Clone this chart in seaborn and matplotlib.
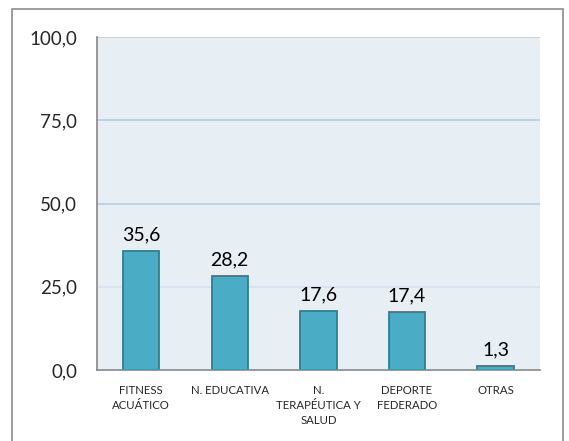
import pandas as pd
import seaborn as sns
import matplotlib.pyplot as plt
from matplotlib.patches import Rectangle

# datos
categorias = ["FITNESS\nACUÁTICO", "N. EDUCATIVA", "N.\nTERAPÉUTICA Y\nSALUD",
              "DEPORTE\nFEDERADO", "OTRAS"]
porcentajes = [35.6, 28.2, 17.6, 17.4, 1.3]
yticks = [0, 25, 50, 75, 100]

df = pd.DataFrame({"categoria": categorias, "porcentaje": porcentajes})

sns.set_style("white")
plt.rcParams['font.family'] = ['Lato', 'DejaVu Sans']

fig = plt.figure(figsize=(5.69, 4.41), dpi=100)
ax = fig.add_axes([0.170, 0.161, 0.779, 0.755])
ax.set_facecolor("#E8EFF4")

ax.set_axisbelow(True)
for v in yticks[1:]:
    ax.axhline(v, color="#B9CDE5" if v != 25 else "#D6E1EF", lw=1.2, zorder=0)

sns.barplot(data=df, x="categoria", y="porcentaje", color="#4BACC6",
            width=0.41, edgecolor="#2E7F93", linewidth=1.3, saturation=1, ax=ax)

for i, v in enumerate(porcentajes):
    ax.text(i, v + 2.3, f"{v:.1f}".replace(".", ","), ha="center", va="bottom",
            fontsize=14, color="black")

ax.set_ylim(0, 100)
ax.set_xlim(-0.5, len(categorias) - 0.5)
ax.set_yticks(yticks)
ax.set_yticklabels([f"{v:.1f}".replace(".", ",") for v in yticks], fontsize=13.5)
ax.set_xticks(range(len(categorias)))
ax.set_xticklabels(categorias, fontsize=8.2, linespacing=1.45, va="top")
ax.set_xticks([i - 0.5 for i in range(len(categorias) + 1)], minor=True)
ax.tick_params(axis="x", which="major", length=0, pad=11)
ax.tick_params(axis="x", which="minor", length=4, color="#888888", direction="out")
ax.tick_params(axis="y", length=5, color="#888888", direction="out", pad=9)
ax.set_xlabel("")
ax.set_ylabel("")

for s in ["top", "right"]:
    ax.spines[s].set_visible(False)
for s in ["left", "bottom"]:
    ax.spines[s].set_color("#888888")
    ax.spines[s].set_linewidth(1.2)

# marco exterior
fig.patches.append(Rectangle((0.021, -0.02), 0.968, 1.0, transform=fig.transFigure,
                             fill=False, edgecolor="#8C8C8C", lw=1.2))

fig.savefig("out.png", dpi=100)
